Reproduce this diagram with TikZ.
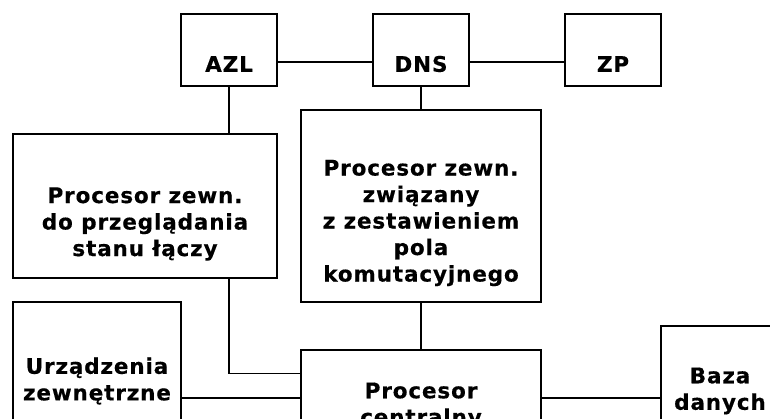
\documentclass[tikz,border=0pt]{standalone}
\usepackage{fontspec}
\newfontfamily\lblfont{DejaVu Sans Bold}[LetterSpace=4, FakeBold=0.4]
\tikzset{
  box/.style={draw, line width=1.4pt, rectangle, inner sep=0pt},
  lbl/.style={align=center, inner sep=0pt, font=\lblfont\fontsize{21.5}{26.5}\selectfont},
  wire/.style={line width=1.4pt}
}
\begin{document}
\begin{tikzpicture}[x=1pt,y=-1pt]
\useasboundingbox (0,0) rectangle (770,419);
\clip (0,0) rectangle (770,419);
% boxes
\node[box, minimum width=96pt, minimum height=72pt] (azl) at (229,50) {};
\node[box, minimum width=96pt, minimum height=72pt] (dns) at (421,50) {};
\node[box, minimum width=96pt, minimum height=72pt] (zp) at (613,50) {};
\node[box, minimum width=264pt, minimum height=144pt] (left) at (145,206) {};
\node[box, minimum width=240pt, minimum height=192pt] (mid) at (421,206) {};
\node[box, minimum width=168pt, minimum height=124pt] (urz) at (97,364) {};
\node[box, minimum width=240pt, minimum height=78pt] (cpu) at (421,389) {};
\node[box, minimum width=118pt, minimum height=100pt] (baza) at (720,376) {};
% labels
\node[lbl] (tazl) at ([yshift=-14pt]azl.center) {AZL};
\node[lbl] (tdns) at ([yshift=-14pt]dns.center) {DNS};
\node[lbl] (tzp) at ([yshift=-14pt]zp.center) {ZP};
\node[lbl] (tleft) at ([yshift=-18pt]left.center) {Procesor zewn.\\do przeglądania\\stanu łączy};
\node[lbl] (tmid) at ([yshift=-17pt]mid.center) {Procesor zewn.\\związany\\z zestawieniem\\pola\\komutacyjnego};
\node[lbl] (turz) at ([yshift=-17pt]urz.center) {Urządzenia\\zewnętrzne};
\node[lbl] (tcpu) at ([yshift=-17pt]cpu.center) {Procesor\\centralny};
\node[lbl] (tbaza) at ([yshift=-15pt]baza.center) {Baza\\danych};
% connectors
\draw[wire] ([yshift=-12pt]azl.east) -- ([yshift=-12pt]dns.west);
\draw[wire] ([yshift=-12pt]dns.east) -- ([yshift=-12pt]zp.west);
\draw[wire] (azl.south) -- (azl.south |- left.north);
\draw[wire] (dns.south) -- (dns.south |- mid.north);
\draw[wire] (mid.south) -- (cpu.north);
\coordinate (bend) at ([yshift=-24pt]cpu.north west);
\draw[wire] (azl.south |- left.south) -- (azl.south |- bend) -- (bend);
\draw[wire] (urz.east |- 0,398) -- (cpu.west |- 0,398);
\draw[wire] (cpu.east |- 0,398) -- (baza.west |- 0,398);
\end{tikzpicture}
\end{document}
